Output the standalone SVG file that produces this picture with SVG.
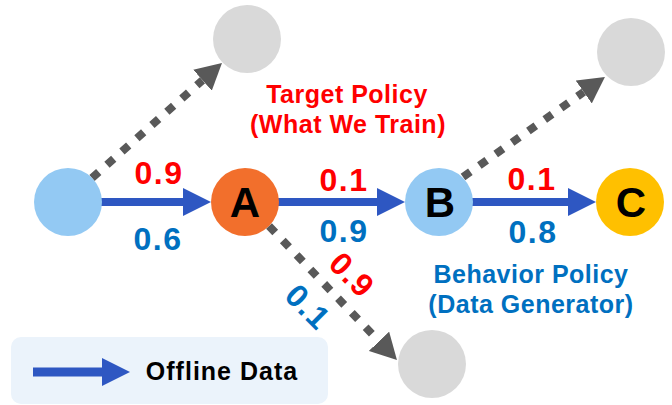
<svg xmlns="http://www.w3.org/2000/svg" width="672" height="405" viewBox="0 0 672 405">
<style>
.num{font-family:"Liberation Sans",Arial,sans-serif;font-weight:bold;font-size:32px;letter-spacing:1.5px;text-anchor:middle}
.red{fill:#FF0000}
.blue{fill:#0070C0}
.lbl{font-family:"Liberation Sans",Arial,sans-serif;font-weight:bold;font-size:25px;text-anchor:middle;letter-spacing:0.5px}
.letter{font-family:"Liberation Sans",Arial,sans-serif;font-weight:bold;font-size:42px;text-anchor:middle;fill:#000}
.solid{stroke:#2E57C2;stroke-width:8;fill:none}
.dotted{stroke:#595959;stroke-width:8;fill:none;stroke-dasharray:9 11}
</style>
<defs>
<marker id="hb" markerUnits="userSpaceOnUse" viewBox="0 0 28 28" refX="0" refY="14" markerWidth="28" markerHeight="28" orient="auto">
<path d="M0,0 L28,14 L0,28 z" fill="#2E57C2"/>
</marker>
<marker id="hg" markerUnits="userSpaceOnUse" viewBox="0 0 26 28" refX="0" refY="14" markerWidth="26" markerHeight="28" orient="auto">
<path d="M0,0 L26,14 L0,28 z" fill="#595959"/>
</marker>
</defs>
<g id="legend">
<rect x="11" y="337" width="317" height="67" rx="10" fill="#EBF3FB"/>
<line x1="33" y1="372" x2="102" y2="372" stroke="#2E57C2" stroke-width="9" marker-end="url(#hb)"/>
<text x="222" y="380" style="font-family:'Liberation Sans',Arial,sans-serif;font-weight:bold;font-size:25px;text-anchor:middle;letter-spacing:1px" fill="#000">Offline Data</text>
</g>
<g id="connectors">
<line class="dotted" x1="92" y1="178" x2="202.5" y2="80.2" marker-end="url(#hg)"/>
<line class="dotted" x1="463" y1="177" x2="583.7" y2="92" marker-end="url(#hg)"/>
<line class="dotted" x1="269" y1="226" x2="379" y2="341.3" marker-end="url(#hg)"/>
<line class="solid" x1="100" y1="202" x2="183" y2="202" marker-end="url(#hb)"/>
<line class="solid" x1="277" y1="202" x2="377" y2="202" marker-end="url(#hb)"/>
<line class="solid" x1="471" y1="202" x2="568" y2="202" marker-end="url(#hb)"/>
</g>
<g id="node-start"><circle cx="68" cy="202" r="34" fill="#93C9F3"/></g>
<g id="node-A"><circle cx="245" cy="202" r="34" fill="#F26F2C"/><text class="letter" x="245" y="217">A</text></g>
<g id="node-B"><circle cx="439" cy="202" r="34" fill="#93C9F3"/><text class="letter" x="440" y="217">B</text></g>
<g id="node-C"><circle cx="630" cy="202" r="34" fill="#FFC000"/><text class="letter" x="631" y="217">C</text></g>
<g id="node-top1"><circle cx="247" cy="39" r="34" fill="#D9D9D9"/></g>
<g id="node-top2"><circle cx="631" cy="52" r="34" fill="#D9D9D9"/></g>
<g id="node-bottom"><circle cx="432" cy="364" r="34" fill="#D9D9D9"/></g>
<g id="labels">
<text class="num red" x="159" y="184">0.9</text>
<text class="num blue" x="158" y="250">0.6</text>
<text class="num red" x="344" y="191">0.1</text>
<text class="num blue" x="344" y="242">0.9</text>
<text class="num red" x="532" y="190">0.1</text>
<text class="num blue" x="533" y="243">0.8</text>
<text class="num red" transform="translate(352,275) rotate(45)" x="0" y="11">0.9</text>
<text class="num blue" transform="translate(308,307) rotate(45)" x="0" y="11">0.1</text>
<text class="lbl red" x="347" y="103">Target Policy</text>
<text class="lbl red" x="348" y="133">(What We Train)</text>
<text class="lbl blue" x="531" y="283">Behavior Policy</text>
<text class="lbl blue" x="531" y="313">(Data Generator)</text>
</g>
</svg>
